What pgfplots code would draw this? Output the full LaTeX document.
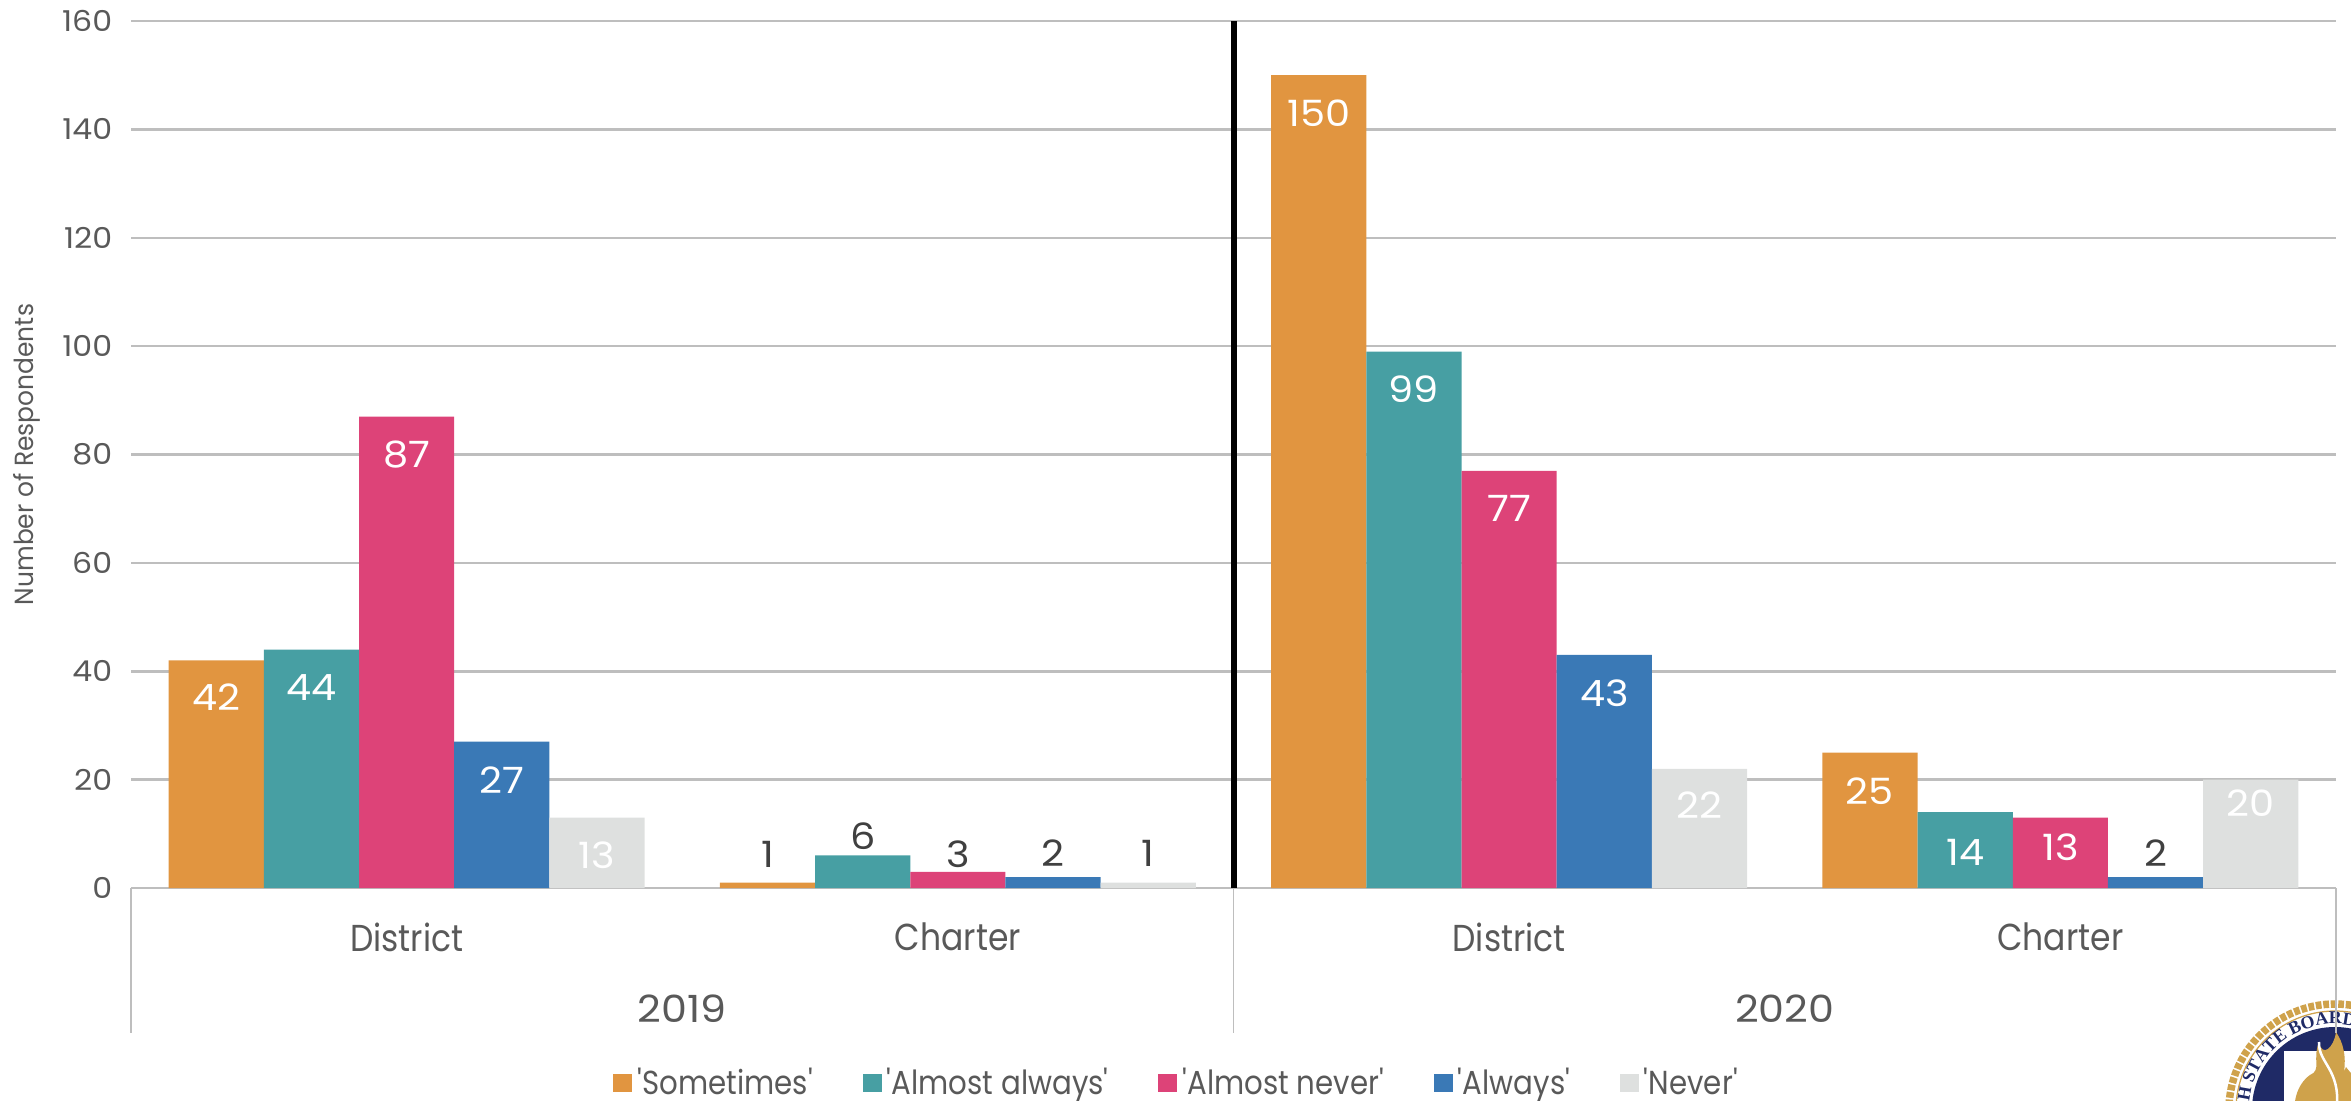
\documentclass[border=0pt]{standalone}
\usepackage{pgfplots}
\pgfplotsset{compat=1.18}
\usepackage{fontspec}
\setmainfont{Poppins}[FakeStretch=0.88]
\newfontfamily\numf{Poppins}[FakeStretch=1.1]
\newfontfamily\ylf{Poppins}[FakeStretch=0.95]
\newfontfamily\logofont{Liberation Serif}
\usetikzlibrary{decorations.text}
\definecolor{cS}{HTML}{E19540}
\definecolor{cM}{HTML}{479FA3}
\definecolor{cN}{HTML}{DD4378}
\definecolor{cA}{HTML}{3A79B6}
\definecolor{cG}{HTML}{DEE0DF}
\definecolor{gridc}{HTML}{BEBEBE}
\definecolor{txt}{HTML}{595959}
\definecolor{dk}{HTML}{404040}
\definecolor{navy}{HTML}{1F2A66}
\definecolor{gold}{HTML}{CFA24B}
\pgfplotsset{
  barser/.style={ybar, bar width=0.1727, bar shift=#1, draw=none,
    nodes near coords, nodes near coords align={center},
    visualization depends on={value \thisrow{dy} \as \dyv},
    visualization depends on={value \thisrow{c} \as \lc},
    every node near coord/.append style={font=\numf\fontsize{14.5}{15}\selectfont, text=\lc, anchor=center, yshift=\dyv*0.4pt, xshift=#1*220.5pt},
    point meta=explicit symbolic},
}
\begin{document}
\begin{tikzpicture}
\path[use as bounding box] (0pt,0pt) rectangle (940.4pt,440pt);
% seal, cut off by the page edge
\begin{scope}[x=0.4pt,y=0.4pt]
\draw[gold, line width=3pt, dash pattern=on 2.3pt off 0.7pt] (2335,-10) circle [radius=106];
\draw[gold, line width=0.5pt] (2335,-10) circle [radius=99];
\fill[navy] (2335,-10) circle [radius=83];
\fill[white] (2284,-60) rectangle (2400,49);
\fill[gold] (2336,68) .. controls (2334,52) and (2322,42) .. (2319,58) .. controls (2312,40) and (2322,30) .. (2310,25) .. controls (2296,15) and (2292,-5) .. (2296,-20) -- (2400,-20) -- (2400,0) .. controls (2365,10) and (2352,25) .. (2346,33) .. controls (2340,18) and (2352,45) .. (2336,68) -- cycle;
\draw[white, line width=1pt] (2319,58) .. controls (2318,35) and (2345,30) .. (2335,-20);
\path[decorate, decoration={text along path, text align={left indent=0pt},
   text={|\fontsize{7.2}{7.5}\selectfont\logofont\bfseries\color{navy}|UTAH STATE BOARD OF EDUCATION}}]
   (2335,-10) ++(200:86) arc[start angle=200, end angle=-20, radius=86];
\end{scope}
\begin{axis}[
  at={(52.4pt,84.8pt)}, anchor=south west,
  scale only axis, width=882pt, height=346.8pt,
  xmin=-0.5, xmax=3.5, ymin=0, ymax=160,
  clip=false,
  axis line style={draw=none},
  tick style={draw=none},
  ytick={0,20,...,160},
  ymajorgrids, grid style={gridc, line width=1pt},
  xtick={0,1,2,3},
  xticklabels={District,Charter,District,Charter},
  /pgf/number format/assume math mode=true,
  yticklabel style={font=\numf\fontsize{11.5}{11.5}\selectfont, text=txt, xshift=-4pt},
  xticklabel style={font=\fontsize{15}{15}\selectfont, text=txt, anchor=center, yshift=-19.6pt},
  ylabel={Number of Respondents},
  ylabel style={font=\ylf\fontsize{10.5}{10.5}\selectfont, text=txt, at={(axis description cs:-0.047,0.5)}, anchor=center},
  legend style={at={(0.475,-0.225)}, anchor=center, draw=none, fill=none,
    legend columns=-1, font=\fontsize{13.3}{13.3}\selectfont\color{txt},
    /tikz/every even column/.append style={column sep=17.6pt},
    inner sep=0pt},
  legend image code/.code={\fill[#1] (0,-3.6pt) rectangle (7.6pt,3.6pt);},
]
\addplot[barser=-0.3454, fill=cS] table[x=x,y=y,meta=l] {
x y l dy c
0 42 42 -37 white
1 1 1 28 dk
2 150 150 -38 white
3 25 25 -39 white
};
\addlegendentry{\textquotesingle Sometimes\textquotesingle}
\addplot[barser=-0.1727, fill=cM] table[x=x,y=y,meta=l] {
x y l dy c
0 44 44 -38 white
1 6 6 19 dk
2 99 99 -38 white
3 14 14 -40 white
};
\addlegendentry{\textquotesingle Almost always\textquotesingle}
\addplot[barser=0, fill=cN] table[x=x,y=y,meta=l] {
x y l dy c
0 87 87 -38 white
1 3 3 18 dk
2 77 77 -38 white
3 13 13 -30 white
};
\addlegendentry{\textquotesingle Almost never\textquotesingle}
\addplot[barser=0.1727, fill=cA] table[x=x,y=y,meta=l] {
x y l dy c
0 27 27 -38 white
1 2 2 24 dk
2 43 43 -38 white
3 2 2 24 dk
};
\addlegendentry{\textquotesingle Always\textquotesingle}
\addplot[barser=0.3454, fill=cG] table[x=x,y=y,meta=l] {
x y l dy c
0 13 13 -38 white
1 1 1 29 dk
2 22 22 -36 white
3 20 20 -24 white
};
\addlegendentry{\textquotesingle Never\textquotesingle}
\draw[black, line width=2.4pt] (axis cs:1.5,0) -- (axis cs:1.5,160);
\pgfplotsinvokeforeach{-0.5,1.5,3.5}{
  \draw[gridc, line width=0.6pt] (axis cs:#1,0) -- ([yshift=-58pt]axis cs:#1,0);
}
\node[font=\numf\fontsize{15}{15}\selectfont, text=txt] at (axis cs:0.5,0) [yshift=-48.4pt] {2019};
\node[font=\numf\fontsize{15}{15}\selectfont, text=txt] at (axis cs:2.5,0) [yshift=-48.4pt] {2020};
\end{axis}
\end{tikzpicture}
\end{document}
